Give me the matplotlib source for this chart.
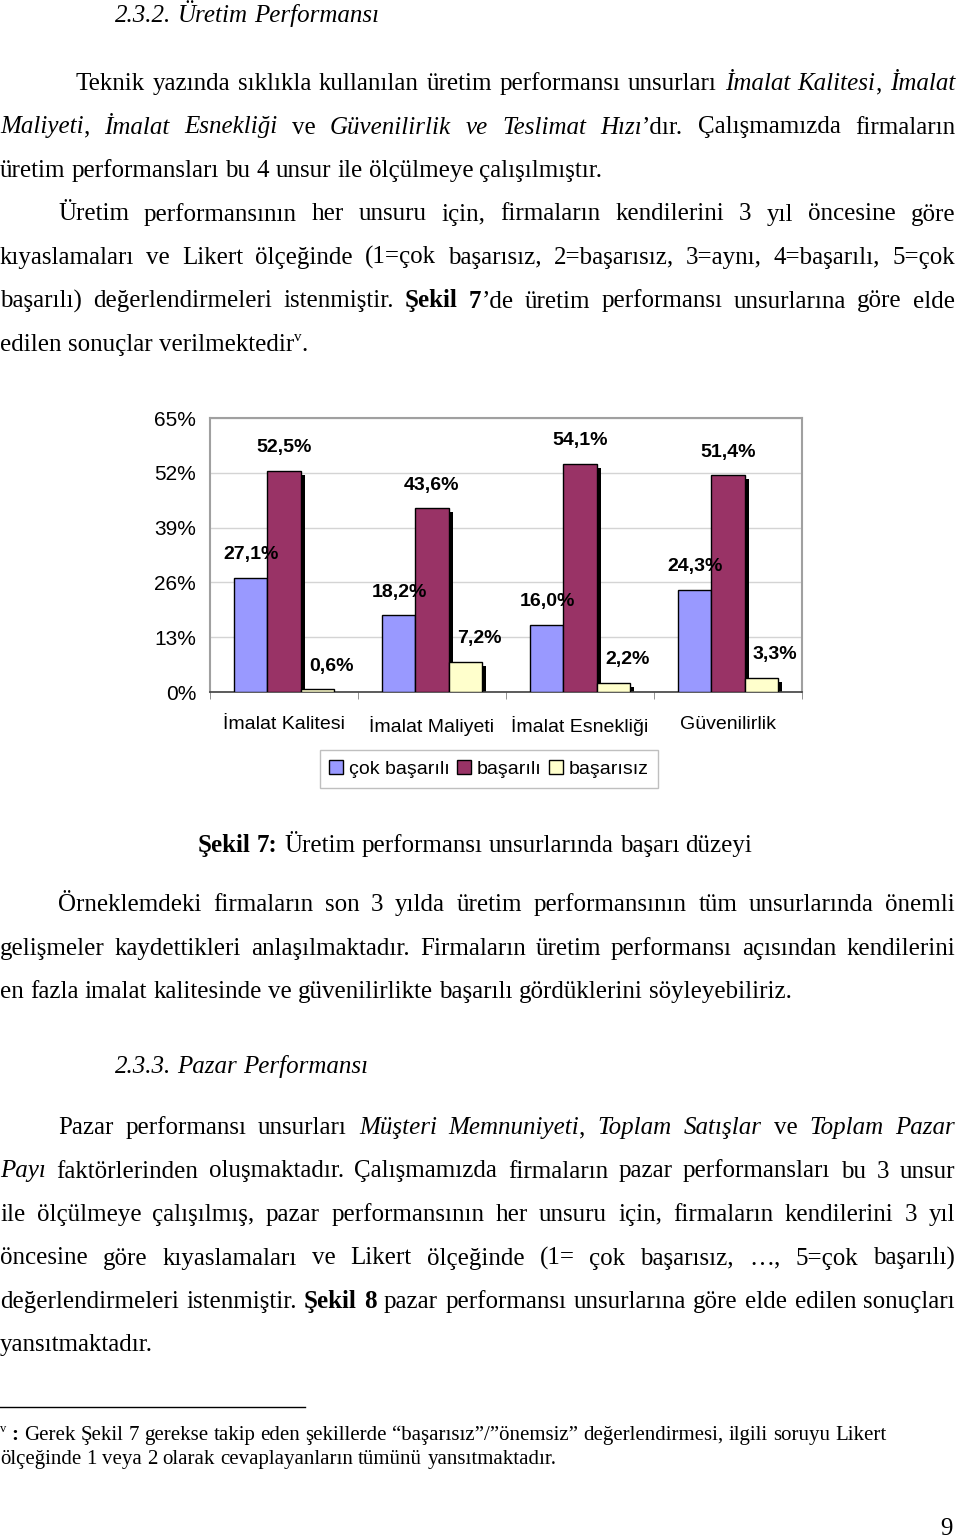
import matplotlib
matplotlib.use('Agg')
import matplotlib.pyplot as plt
from matplotlib.patches import Patch
from matplotlib.lines import Line2D
import numpy as np

# chart data (Şekil 7)
categories = ['İmalat Kalitesi', 'İmalat Maliyeti', 'İmalat Esnekliği', 'Güvenilirlik']
series_names = ['çok başarılı', 'başarılı', 'başarısız']
cok_basarili = [27.1, 18.2, 16.0, 24.3]
basarili = [52.5, 43.6, 54.1, 51.4]
basarisiz = [0.6, 7.2, 2.2, 3.3]
y_ticks = [0, 13, 26, 39, 52, 65]
colors = ['#9999FF', '#993366', '#FFFFCC']

W, H = 960, 1539
fig = plt.figure(figsize=(W / 100, H / 100), dpi=100)
r = fig.canvas.get_renderer()

SERIF = 'Liberation Serif'
SANS = 'Liberation Sans'
BODY = 18
FOOT = 15


def fx(x):
    return x / W


def fy(y):
    return 1 - y / H


def make_text(x, y, s, st, size):
    if st == 's':
        size = size * 0.6
        y = y - size * 0.9
    t = fig.text(fx(x), fy(y), s, family=SERIF, size=size,
                 style='italic' if 'i' in st else 'normal',
                 weight='bold' if 'b' in st else 'normal',
                 ha='left', va='baseline')
    return t


def text_line(y, x0, segs, x1=None, size=BODY):
    # split styled segments into words
    if isinstance(segs, str):
        segs = [(segs, 'n')]
    words = [[]]
    for txt, st in segs:
        parts = txt.split(' ')
        for k, p in enumerate(parts):
            if k > 0:
                words.append([])
            if p:
                words[-1].append((p, st))
    words = [w for w in words if w]
    items = []
    total = 0
    for w in words:
        pieces = []
        for txt, st in w:
            t = make_text(x0, y, txt, st, size)
            wd = t.get_window_extent(r).width
            pieces.append((t, wd))
            total += wd
        items.append(pieces)
    sp = size * 0.25 * 100 / 72
    if x1 is not None and len(items) > 1:
        gap = (x1 - x0 - total) / (len(items) - 1)
    else:
        gap = sp
    x = x0
    for pieces in items:
        for t, wd in pieces:
            t.set_x(fx(x))
            x += wd
        x += gap


R = 955  # right margin

text_line(22, 115, [('2.3.2. Üretim Performansı', 'i')])
text_line(90, 76, [('Teknik yazında sıklıkla kullanılan üretim performansı unsurları ', 'n'),
                   ('İmalat Kalitesi', 'i'), (', ', 'n'), ('İmalat', 'i')], R)
text_line(133.5, 0, [('Maliyeti', 'i'), (', ', 'n'), ('İmalat Esnekliği', 'i'), (' ve ', 'n'),
                     ('Güvenilirlik ve Teslimat Hızı', 'i'),
                     ('’dır. Çalışmamızda firmaların', 'n')], R)
text_line(177, 0, 'üretim performansları bu 4 unsur ile ölçülmeye çalışılmıştır.')
text_line(220.5, 58, 'Üretim performansının her unsuru için, firmaların kendilerini 3 yıl öncesine göre', R)
text_line(264, 0, 'kıyaslamaları ve Likert ölçeğinde (1=çok başarısız, 2=başarısız, 3=aynı, 4=başarılı, 5=çok', R)
text_line(307.5, 0, [('başarılı) değerlendirmeleri istenmiştir. ', 'n'), ('Şekil 7', 'b'),
                     ('’de üretim performansı unsurlarına göre elde', 'n')], R)
text_line(351, 0, [('edilen sonuçlar verilmektedir', 'n'), ('v', 's'), ('.', 'n')])

text_line(852, 198, [('Şekil 7:', 'b'), (' Üretim performansı unsurlarında başarı düzeyi', 'n')])
text_line(911, 58, 'Örneklemdeki firmaların son 3 yılda üretim performansının tüm unsurlarında önemli', R)
text_line(954.5, 0, 'gelişmeler kaydettikleri anlaşılmaktadır. Firmaların üretim performansı açısından kendilerini', R)
text_line(998, 0, 'en fazla imalat kalitesinde ve güvenilirlikte başarılı gördüklerini söyleyebiliriz.')

text_line(1073, 115, [('2.3.3. Pazar Performansı', 'i')])
text_line(1134, 58, [('Pazar performansı unsurları ', 'n'), ('Müşteri Memnuniyeti', 'i'), (', ', 'n'),
                     ('Toplam Satışlar', 'i'), (' ve ', 'n'), ('Toplam Pazar', 'i')], R)
text_line(1177.5, 0, [('Payı', 'i'),
                      (' faktörlerinden oluşmaktadır. Çalışmamızda firmaların pazar performansları bu 3 unsur', 'n')], R)
text_line(1221, 0, 'ile ölçülmeye çalışılmış, pazar performansının her unsuru için, firmaların kendilerini 3 yıl', R)
text_line(1264.5, 0, 'öncesine göre kıyaslamaları ve Likert ölçeğinde (1= çok başarısız, …, 5=çok başarılı)', R)
text_line(1308, 0, [('değerlendirmeleri istenmiştir. ', 'n'), ('Şekil 8', 'b'),
                    (' pazar performansı unsurlarına göre elde edilen sonuçları', 'n')], R)
text_line(1351.5, 0, 'yansıtmaktadır.')

fig.add_artist(Line2D([fx(0), fx(305)], [fy(1407), fy(1407)], color='black', lw=1))
text_line(1440, 0, [('v', 's'), (' :', 'b'),
                    (' Gerek Şekil 7 gerekse takip eden şekillerde “başarısız”/”önemsiz” değerlendirmesi, ilgili soruyu Likert', 'n')],
          size=FOOT)
text_line(1464, 0, 'ölçeğinde 1 veya 2 olarak cevaplayanların tümünü yansıtmaktadır.', size=FOOT)
fig.text(fx(953), fy(1535), '9', family=SERIF, size=BODY, ha='right', va='baseline')

# ---- chart ----
ax = fig.add_axes([fx(210), fy(692), (802 - 210) / W, (692 - 418) / H])
ax.set_xlim(-0.5, 3.5)
ax.set_ylim(0, 65)
bw = 0.223
sx = 4 / 148          # shadow offset (4 px) in x units
sy = 4 * 65 / 274     # shadow offset (4 px) in y units
x = np.arange(len(categories))
for k, (vals, c) in enumerate(zip([cok_basarili, basarili, basarisiz], colors)):
    vals = np.array(vals)
    xs = x + (k - 1) * bw
    ax.bar(xs + sx, np.maximum(vals - sy, 0), bw, color='black', zorder=2)
    ax.bar(xs, vals, bw, color=c, edgecolor='black', lw=1, zorder=3)
    dx = 0.095 if k == 2 else 0
    for xi, v in zip(xs, vals):
        ax.text(xi + dx, v + 5.5, f'{v:.1f}%'.replace('.', ','), ha='center', va='center',
                family=SANS, size=14, weight='bold', zorder=5)

ax.set_yticks(y_ticks)
ax.set_yticklabels([f'{t}%' for t in y_ticks], family=SANS, size=15)
ax.yaxis.grid(True, color='#d4d4d4', lw=1)
ax.set_axisbelow(True)
ax.set_xticks(x)
ax.set_xticklabels(categories, family=SANS, size=14)
ax.set_xticks(np.arange(-0.5, 4, 1), minor=True)
ax.tick_params(axis='x', which='major', length=0, pad=17)
ax.tick_params(axis='x', which='minor', length=5, color='#808080', direction='out')
ax.tick_params(axis='y', length=0, pad=10)
for s in ['top', 'right', 'left']:
    ax.spines[s].set_color('#a0a0a0')
    ax.spines[s].set_linewidth(1.5)
ax.spines['bottom'].set_color('#404040')
ax.spines['bottom'].set_linewidth(1.2)

handles = [Patch(facecolor=c, edgecolor='black', lw=1) for c in colors]
leg = fig.legend(handles, series_names, loc='center', bbox_to_anchor=(fx(489), fy(769)), ncol=3,
                 fancybox=False, edgecolor='#b0b0b0', handlelength=0.7, handleheight=0.7,
                 handletextpad=0.3, columnspacing=0.4, borderpad=0.5,
                 prop={'family': SANS, 'size': 14})
leg.get_frame().set_linewidth(1)

fig.savefig('out.png', dpi=100)
